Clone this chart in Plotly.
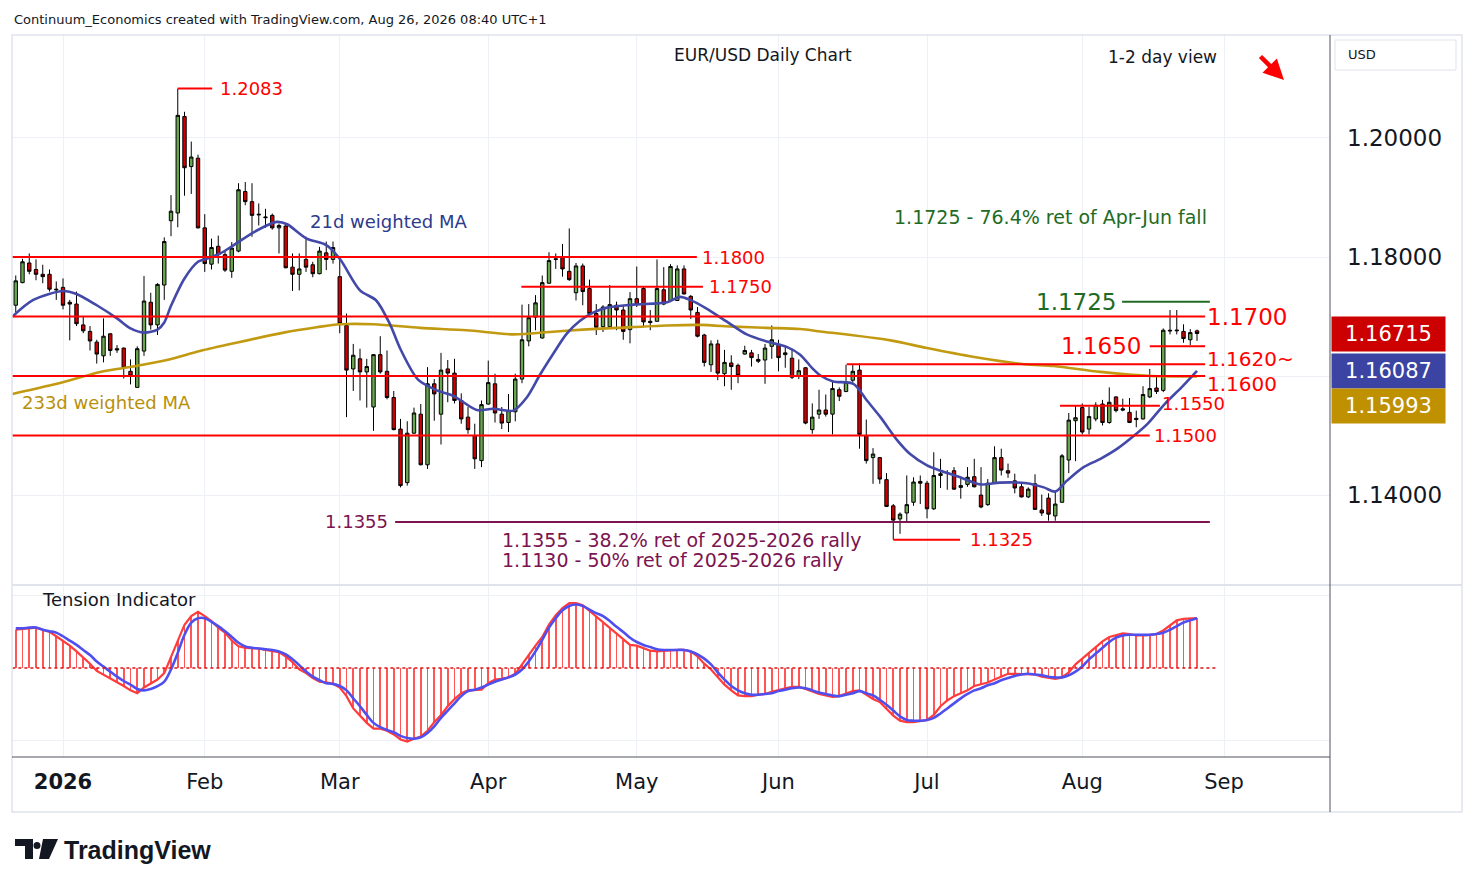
import pandas as pd
import plotly.graph_objects as go

W, H = 1474, 887
OX, OY = 8, 8            # page body margin of the browser
FW, FH = W - 2 * OX, H - 2 * OY
def XP(px): return (px - OX) / FW
def YP(py): return 1 - (py - OY) / FH

# ---------------- data ----------------
HOLIDAYS = ["2025-12-25", "2026-01-01"]
all_days = [d for d in pd.bdate_range("2025-12-22", "2026-09-30")
            if d.strftime("%Y-%m-%d") not in HOLIDAYS]

open_ = [1.1719,1.1757,1.1790,1.1779,1.1771,1.1771,1.1746,1.1749,1.1724,1.1721,
         1.1686,1.1675,1.1657,1.1634,1.1671,1.1646,1.1647,1.1608,1.1581,1.1642,
         1.1724,1.1686,1.1753,1.1861,1.1874,1.2036,1.1952,1.1966,1.1849,1.1788,
         1.1818,1.1804,1.1776,1.1810,1.1910,1.1893,1.1872,1.1866,1.1870,1.1849,
         1.1852,1.1783,1.1771,1.1796,1.1787,1.1772,1.1807,1.1796,1.1767,1.1685,
         1.1612,1.1629,1.1607,1.1548,1.1636,1.1608,1.1564,1.1511,1.1421,1.1504,
         1.1536,1.1451,1.1587,1.1536,1.1612,1.1605,1.1559,1.1531,1.1500,1.1458,
         1.1553,1.1587,1.1536,1.1522,1.1540,1.1595,1.1659,1.1699,1.1664,1.1756,
         1.1797,1.1800,1.1776,1.1740,1.1785,1.1747,1.1705,1.1683,1.1683,1.1719,
         1.1711,1.1678,1.1730,1.1747,1.1692,1.1692,1.1745,1.1727,1.1727,1.1780,
         1.1734,1.1707,1.1669,1.1619,1.1654,1.1604,1.1622,1.1618,1.1637,1.1639,
         1.1628,1.1627,1.1650,1.1653,1.1636,1.1630,1.1601,1.1614,1.1510,1.1536,
         1.1543,1.1536,1.1577,1.1574,1.1593,1.1610,1.1500,1.1463,1.1463,1.1426,
         1.1382,1.1360,1.1370,1.1388,1.1423,1.1420,1.1377,1.1433,1.1437,1.1441,
         1.1413,1.1418,1.1431,1.1400,1.1384,1.1420,1.1463,1.1441,1.1424,1.1414,
         1.1397,1.1419,1.1375,1.1395,1.1365,1.1388,1.1459,1.1525,1.1547,1.1511,
         1.1528,1.1553,1.1522,1.1565,1.1545,1.1539,1.1529,1.1528,1.1565,1.1580,
         1.1576,1.1677,1.1676,1.1675,1.1661,1.1676]
high = [1.1769,1.1797,1.1806,1.1796,1.1787,1.1779,1.1759,1.1764,1.1728,1.1742,
        1.1701,1.1684,1.1661,1.1697,1.1672,1.1652,1.1648,1.1628,1.1650,1.1768,
        1.1740,1.1756,1.1833,1.1904,1.2083,1.2044,1.1994,1.1972,1.1872,1.1831,
        1.1836,1.1811,1.1825,1.1924,1.1926,1.1924,1.1890,1.1881,1.1873,1.1856,
        1.1856,1.1806,1.1806,1.1834,1.1792,1.1817,1.1826,1.1826,1.1796,1.1705,
        1.1654,1.1646,1.1629,1.1637,1.1667,1.1643,1.1575,1.1528,1.1524,1.1547,
        1.1553,1.1615,1.1595,1.1639,1.1627,1.1629,1.1571,1.1548,1.1520,1.1559,
        1.1626,1.1604,1.1548,1.1570,1.1604,1.1720,1.1721,1.1736,1.1769,1.1808,
        1.1806,1.1822,1.1848,1.1790,1.1789,1.1762,1.1721,1.1719,1.1753,1.1725,
        1.1719,1.1741,1.1784,1.1750,1.1711,1.1796,1.1783,1.1788,1.1786,1.1786,
        1.1736,1.1716,1.1671,1.1660,1.1661,1.1644,1.1635,1.1621,1.1651,1.1644,
        1.1637,1.1654,1.1685,1.1661,1.1649,1.1646,1.1628,1.1615,1.1554,1.1577,
        1.1569,1.1590,1.1581,1.1619,1.1620,1.1621,1.1527,1.1479,1.1464,1.1437,
        1.1385,1.1371,1.1433,1.1430,1.1433,1.1424,1.1472,1.1461,1.1442,1.1447,
        1.1431,1.1447,1.1461,1.1447,1.1427,1.1482,1.1478,1.1453,1.1436,1.1420,
        1.1413,1.1435,1.1401,1.1403,1.1408,1.1469,1.1538,1.1551,1.1554,1.1548,
        1.1556,1.1560,1.1581,1.1566,1.1562,1.1563,1.1542,1.1583,1.1612,1.1601,
        1.1680,1.1711,1.1711,1.1687,1.1679,1.1678]
low = [1.1707,1.1756,1.1771,1.1761,1.1756,1.1742,1.1728,1.1712,1.1660,1.1684,
       1.1672,1.1643,1.1621,1.1623,1.1634,1.1639,1.1596,1.1586,1.1581,1.1634,
       1.1678,1.1669,1.1728,1.1835,1.1850,1.1903,1.1906,1.1848,1.1775,1.1779,
       1.1789,1.1775,1.1765,1.1808,1.1887,1.1834,1.1853,1.1849,1.1846,1.1806,
       1.1781,1.1743,1.1744,1.1775,1.1766,1.1771,1.1778,1.1789,1.1672,1.1531,
       1.1575,1.1559,1.1547,1.1508,1.1604,1.1561,1.1509,1.1413,1.1416,1.1503,
       1.1450,1.1444,1.1525,1.1485,1.1556,1.1554,1.1520,1.1503,1.1444,1.1447,
       1.1552,1.1522,1.1511,1.1506,1.1524,1.1588,1.1650,1.1677,1.1663,1.1755,
       1.1780,1.1767,1.1760,1.1727,1.1719,1.1704,1.1669,1.1674,1.1682,1.1677,
       1.1661,1.1655,1.1716,1.1682,1.1677,1.1691,1.1719,1.1726,1.1726,1.1737,
       1.1696,1.1665,1.1616,1.1607,1.1593,1.1583,1.1577,1.1588,1.1636,1.1616,
       1.1622,1.1587,1.1629,1.1608,1.1614,1.1595,1.1595,1.1519,1.1503,1.1528,
       1.1532,1.1502,1.1558,1.1573,1.1590,1.1478,1.1453,1.1419,1.1419,1.1380,
       1.1325,1.1335,1.1354,1.1382,1.1385,1.1361,1.1375,1.1412,1.1409,1.1409,
       1.1394,1.1414,1.1413,1.1378,1.1382,1.1419,1.1433,1.1429,1.1403,1.1396,
       1.1395,1.1375,1.1365,1.1357,1.1357,1.1387,1.1437,1.1457,1.1502,1.1502,
       1.1524,1.1517,1.1520,1.1539,1.1541,1.1521,1.1514,1.1527,1.1563,1.1570,
       1.1573,1.1670,1.1670,1.1656,1.1652,1.1659]
close = [1.1760,1.1792,1.1776,1.1771,1.1767,1.1746,1.1745,1.1719,1.1721,1.1688,
         1.1676,1.1659,1.1637,1.1667,1.1643,1.1644,1.1614,1.1600,1.1646,1.1726,
         1.1686,1.1754,1.1826,1.1877,1.2038,1.1950,1.1968,1.1849,1.1789,1.1816,
         1.1804,1.1778,1.1815,1.1913,1.1893,1.1870,1.1871,1.1867,1.1849,1.1853,
         1.1782,1.1771,1.1780,1.1783,1.1772,1.1810,1.1796,1.1816,1.1688,1.1610,
         1.1635,1.1607,1.1616,1.1636,1.1607,1.1564,1.1510,1.1416,1.1504,1.1538,
         1.1451,1.1587,1.1570,1.1610,1.1605,1.1559,1.1528,1.1510,1.1461,1.1552,
         1.1589,1.1538,1.1521,1.1542,1.1595,1.1661,1.1698,1.1723,1.1757,1.1794,
         1.1796,1.1780,1.1762,1.1785,1.1742,1.1705,1.1682,1.1716,1.1720,1.1711,
         1.1675,1.1730,1.1720,1.1691,1.1690,1.1747,1.1721,1.1784,1.1780,1.1738,
         1.1711,1.1667,1.1623,1.1654,1.1605,1.1623,1.1616,1.1601,1.1643,1.1631,
         1.1625,1.1647,1.1661,1.1631,1.1639,1.1598,1.1609,1.1521,1.1531,1.1543,
         1.1536,1.1579,1.1566,1.1590,1.1608,1.1502,1.1458,1.1469,1.1427,1.1381,
         1.1358,1.1368,1.1384,1.1422,1.1420,1.1377,1.1433,1.1436,1.1438,1.1410,
         1.1416,1.1430,1.1414,1.1380,1.1420,1.1463,1.1442,1.1437,1.1412,1.1397,
         1.1410,1.1376,1.1370,1.1368,1.1385,1.1466,1.1526,1.1530,1.1506,1.1532,
         1.1551,1.1522,1.1556,1.1542,1.1543,1.1522,1.1527,1.1569,1.1579,1.1574,
         1.1677,1.1676,1.1677,1.1663,1.1673,1.16715]

# 21d weighted MA (at bar positions)
wma21_x = [-0.5,2.6,7,9,12,15,17,19,21,22,23,25,27,28,30.3,32.3,35.3,38.7,40.2,43.1,46,48,
           51,53.4,55.4,57,59.6,62.4,64.8,68.3,70.7,73.7,75.7,77.6,79.6,81.6,83.6,85.6,87.6,
           91.5,96.5,98.4,99.9,102.4,105.4,108.3,111.3,114.2,116.2,118.1,119.2,121.1,124.1,
           126.1,128.1,130.6,132.5,135,137,139.9,142.9,145.8,149.8,152.3,154,155.7,158.2,
           160.7,163.2,165.7,167.7,170.2,172.7,175]
wma21_y = [1.1700,1.1728,1.1743,1.1738,1.1719,1.1697,1.1680,1.1673,1.1678,1.1690,1.1718,1.1764,
           1.1792,1.1796,1.1806,1.1820,1.1842,1.1859,1.1855,1.1831,1.1820,1.1797,1.1744,1.1727,
           1.1688,1.1645,1.1594,1.1576,1.1567,1.1543,1.1545,1.1542,1.1564,1.1601,1.1637,1.1671,
           1.1693,1.1707,1.1715,1.1720,1.1724,1.1733,1.1728,1.1713,1.1691,1.1670,1.1658,1.1649,
           1.1636,1.1612,1.1601,1.1591,1.1587,1.1559,1.1531,1.1492,1.1469,1.1450,1.1441,1.1430,
           1.1418,1.1421,1.1420,1.1413,1.1406,1.1424,1.1447,1.1461,1.1478,1.1500,1.1520,1.1553,
           1.1581,1.16087]
# 233d weighted MA
wma233_x = [-0.5,7.1,12.5,17.4,22.4,27.3,32.3,39.7,44.6,48,53,59.9,66.8,73.7,79.1,84,89.1,
            96.5,101.4,106.4,111.3,116.2,119.2,129.6,135,142,149.4,153.8,160.7,168.3,175]
wma233_y = [1.1570,1.1590,1.1607,1.1616,1.1627,1.1642,1.1655,1.1673,1.1682,1.1687,1.1687,
            1.1681,1.1677,1.1670,1.1674,1.1678,1.1681,1.1685,1.1686,1.1683,1.1681,1.1679,
            1.1675,1.1660,1.1647,1.1632,1.1620,1.1617,1.1607,1.1600,1.15993]

# Tension indicator (red = tension, blue = signal)
tension = [0.53,0.54,0.56,0.56,0.53,0.50,0.44,0.38,0.31,0.23,0.15,0.06,-0.04,-0.09,-0.15,-0.20,
           -0.25,-0.31,-0.35,-0.27,-0.21,-0.16,-0.07,0.15,0.39,0.60,0.72,0.78,0.72,0.65,0.56,0.49,
           0.38,0.30,0.28,0.28,0.27,0.25,0.24,0.22,0.16,0.08,-0.02,-0.07,-0.14,-0.19,-0.20,-0.22,
           -0.27,-0.39,-0.56,-0.66,-0.76,-0.84,-0.84,-0.87,-0.92,-0.99,-1.02,-0.98,-0.95,-0.87,
           -0.75,-0.65,-0.53,-0.43,-0.35,-0.31,-0.31,-0.30,-0.21,-0.16,-0.15,-0.13,-0.08,0.05,
           0.19,0.31,0.43,0.60,0.73,0.83,0.90,0.90,0.87,0.79,0.71,0.63,0.56,0.48,0.39,0.32,0.31,
           0.28,0.24,0.23,0.24,0.24,0.25,0.25,0.23,0.16,0.06,-0.02,-0.12,-0.23,-0.31,-0.38,-0.39,
           -0.39,-0.37,-0.36,-0.33,-0.30,-0.28,-0.26,-0.26,-0.29,-0.33,-0.36,-0.38,-0.40,-0.39,
           -0.36,-0.32,-0.31,-0.37,-0.43,-0.47,-0.56,-0.66,-0.73,-0.75,-0.75,-0.73,-0.72,-0.65,
           -0.53,-0.45,-0.39,-0.35,-0.31,-0.25,-0.23,-0.20,-0.16,-0.12,-0.08,-0.08,-0.08,-0.08,
           -0.09,-0.12,-0.13,-0.15,-0.13,-0.06,0.05,0.13,0.22,0.30,0.37,0.43,0.46,0.48,0.47,0.45,
           0.45,0.46,0.47,0.52,0.59,0.66,0.68,0.69,0.69]
signal = [0.55,0.55,0.56,0.56,0.53,0.51,0.49,0.44,0.38,0.32,0.25,0.18,0.09,0.02,-0.05,-0.12,
          -0.18,-0.23,-0.29,-0.31,-0.29,-0.25,-0.19,-0.02,0.21,0.46,0.63,0.69,0.69,0.64,0.58,0.51,
          0.43,0.35,0.30,0.28,0.27,0.26,0.25,0.23,0.19,0.12,0.04,-0.05,-0.12,-0.17,-0.21,-0.22,
          -0.25,-0.31,-0.42,-0.53,-0.65,-0.76,-0.82,-0.86,-0.89,-0.94,-0.97,-0.98,-0.96,-0.90,
          -0.81,-0.69,-0.59,-0.49,-0.39,-0.32,-0.30,-0.27,-0.23,-0.19,-0.16,-0.13,-0.09,-0.02,
          0.09,0.23,0.39,0.56,0.69,0.80,0.86,0.88,0.86,0.81,0.76,0.72,0.65,0.57,0.50,0.42,0.36,
          0.32,0.29,0.26,0.25,0.25,0.25,0.25,0.23,0.19,0.13,0.05,-0.06,-0.16,-0.25,-0.31,-0.35,
          -0.37,-0.37,-0.36,-0.35,-0.32,-0.30,-0.28,-0.27,-0.28,-0.31,-0.34,-0.36,-0.38,-0.39,
          -0.37,-0.35,-0.32,-0.35,-0.38,-0.44,-0.51,-0.59,-0.67,-0.72,-0.73,-0.73,-0.72,-0.69,
          -0.63,-0.56,-0.49,-0.42,-0.36,-0.31,-0.28,-0.24,-0.21,-0.17,-0.14,-0.11,-0.09,-0.08,
          -0.09,-0.10,-0.12,-0.13,-0.13,-0.10,-0.05,0.02,0.12,0.20,0.28,0.36,0.42,0.45,0.46,0.46,
          0.46,0.46,0.47,0.49,0.53,0.58,0.63,0.66,0.69]

last_close = 1.16715
last_wma21 = 1.16087
last_wma233 = 1.15993

# ---------------- figure ----------------
N = len(close)
idx = list(range(N))
dates = all_days[:N]
hover = [d.strftime("%Y-%m-%d") for d in dates]

# month ticks from the calendar
tick_idx, tick_txt = [], []
prev = dates[0].month
for k, d in enumerate(all_days):
    if d.month != prev:
        tick_idx.append(k)
        tick_txt.append("<b>2026</b>" if d.month == 1 else d.strftime("%b"))
        prev = d.month

FONT = "DejaVu Sans"
GRID = "#edf0f5"
TXT = "#131722"

fig = go.Figure()
fig.add_trace(go.Candlestick(
    x=idx, open=open_, high=high, low=low, close=close, text=hover,
    increasing=dict(line=dict(color="#000000", width=1), fillcolor="#6aa84f"),
    decreasing=dict(line=dict(color="#000000", width=1), fillcolor="#cc0000"),
    whiskerwidth=0, xaxis="x", yaxis="y", showlegend=False))
fig.add_trace(go.Scatter(x=wma233_x, y=wma233_y, mode="lines",
                         line=dict(color="#c29a12", width=2.6, shape="spline", smoothing=0.8),
                         xaxis="x", yaxis="y", showlegend=False, hoverinfo="skip"))
fig.add_trace(go.Scatter(x=wma21_x, y=wma21_y, mode="lines",
                         line=dict(color="#4349a8", width=2.6, shape="spline", smoothing=0.8),
                         xaxis="x", yaxis="y", showlegend=False, hoverinfo="skip"))

# indicator
fig.add_trace(go.Bar(x=idx, y=tension, width=0.24, marker=dict(color="rgba(255,55,55,0.85)", line=dict(width=0)),
                     xaxis="x2", yaxis="y2", showlegend=False))
fig.add_trace(go.Scatter(x=idx, y=tension, mode="lines", line=dict(color="#ff3b3b", width=2.2),
                         xaxis="x2", yaxis="y2", showlegend=False))
fig.add_trace(go.Scatter(x=idx, y=signal, mode="lines", line=dict(color="#4f4ff0", width=2.6, shape="spline"),
                         xaxis="x2", yaxis="y2", showlegend=False))

XDOM = [XP(12), XP(1330)]
XR = [-0.556, 194.7]
fig.update_layout(
    width=FW, height=FH, margin=dict(l=0, r=0, t=0, b=0),
    paper_bgcolor="white", plot_bgcolor="white",
    font=dict(family=FONT, color=TXT), boxgap=0.28, bargap=0,
    hovermode=False,
    xaxis=dict(domain=XDOM, range=XR, anchor="y", tickvals=tick_idx, showticklabels=False,
               showgrid=True, gridcolor=GRID, gridwidth=1, zeroline=False,
               rangeslider=dict(visible=False), showline=False, fixedrange=True),
    yaxis=dict(domain=[YP(585), YP(35)], range=[1.1249, 1.2173], side="right",
               tickvals=[1.14, 1.16, 1.18, 1.20], ticktext=["1.14000", "", "1.18000", "1.20000"],
               tickfont=dict(size=23, color=TXT, family=FONT), ticks="", ticklabelstandoff=16,
               showgrid=True, gridcolor=GRID, zeroline=False, showline=False, fixedrange=True),
    xaxis2=dict(domain=XDOM, range=XR, anchor="y2", matches="x", tickvals=tick_idx, ticktext=tick_txt,
                tickfont=dict(size=21, color=TXT, family=FONT), ticks="", ticklabelstandoff=10,
                showgrid=True, gridcolor=GRID, zeroline=False, showline=False),
    yaxis2=dict(domain=[YP(757), YP(585)], range=[-1.233, 1.150], side="right",
                tickvals=[-1, 1], showticklabels=False, showgrid=True, gridcolor=GRID,
                zeroline=False, showline=False),
)

shapes = []
def hline(y, x0, x1, color="#ff0000", width=2):
    shapes.append(dict(type="line", xref="x", yref="y", x0=x0, x1=x1, y0=y, y1=y,
                       line=dict(color=color, width=width)))

hline(1.2083, 24.0, 29.1)
hline(1.1800, -0.56, 100.9)
hline(1.1750, 74.9, 101.8)
hline(1.1700, -0.56, 176.2)
hline(1.1650, 168.0, 176.2)
hline(1.1620, 123.1, 176.2)
hline(1.1600, -0.56, 176.2)
hline(1.1550, 154.7, 169.5)
hline(1.1500, -0.56, 168.0)
hline(1.1355, 56.2, 176.9, color="#7b1450")
hline(1.1325, 130.0, 139.9)
hline(1.1725, 163.9, 176.9, color="#1f6b24")

# zero line of indicator
shapes.append(dict(type="line", xref="x2", yref="y2", x0=-0.5, x1=178, y0=0, y1=0,
                   line=dict(color="#e01010", width=1.5, dash="dot")))

# frame and separators
shapes.append(dict(type="rect", xref="paper", yref="paper", x0=XP(12), x1=XP(1462), y0=YP(812), y1=YP(35),
                   line=dict(color="#e0e3eb", width=1.5)))
shapes.append(dict(type="line", xref="paper", yref="paper", x0=XP(12), x1=XP(1462), y0=YP(585), y1=YP(585),
                   line=dict(color="#e0e3eb", width=2)))
shapes.append(dict(type="line", xref="paper", yref="paper", x0=XP(12), x1=XP(1330), y0=YP(757), y1=YP(757),
                   line=dict(color="#50535e", width=1)))
shapes.append(dict(type="line", xref="paper", yref="paper", x0=XP(1330), x1=XP(1330), y0=YP(812), y1=YP(35),
                   line=dict(color="#50535e", width=1)))
# USD box
shapes.append(dict(type="rect", xref="paper", yref="paper", x0=XP(1335), x1=XP(1456), y0=YP(70), y1=YP(40),
                   line=dict(color="#e0e3eb", width=1), fillcolor="white"))
# TradingView logo
LOGO = "#131722"
shapes.append(dict(type="path", xref="paper", yref="paper", fillcolor=LOGO, line=dict(width=0),
                   path=f"M {XP(15)} {YP(839)} L {XP(33)} {YP(839)} L {XP(33)} {YP(859)} L {XP(25)} {YP(859)} "
                        f"L {XP(25)} {YP(846)} L {XP(15)} {YP(846)} Z"))
shapes.append(dict(type="circle", xref="paper", yref="paper", fillcolor=LOGO, line=dict(width=0),
                   x0=XP(33.5), x1=XP(40.5), y0=YP(849), y1=YP(842)))
shapes.append(dict(type="path", xref="paper", yref="paper", fillcolor=LOGO, line=dict(width=0),
                   path=f"M {XP(43)} {YP(839)} L {XP(58)} {YP(839)} L {XP(49)} {YP(859)} L {XP(39)} {YP(859)} Z"))
fig.update_layout(shapes=shapes)

ann = []
def lvl(text, x, y, anchor="left", size=18, color="#ff0000", yshift=0):
    ann.append(dict(text=text, x=x, y=y, xref="x", yref="y", xanchor=anchor, yanchor="middle",
                    showarrow=False, font=dict(size=size, color=color, family=FONT), yshift=yshift))

lvl("1.2083", 30.0, 1.2083)
lvl("1.1800", 101.4, 1.1800)
lvl("1.1750", 102.4, 1.1750)
lvl("1.1700", 176.2, 1.1700, size=23)
lvl("1.1650", 167.0, 1.1650, anchor="right", size=23)
lvl("1.1620~", 176.2, 1.1620, size=20, yshift=5)
lvl("1.1600", 176.2, 1.1600, size=20, yshift=-8)
lvl("1.1550", 169.5, 1.1550, yshift=2)
lvl("1.1500", 168.3, 1.1500)
lvl("1.1355", 55.4, 1.1355, anchor="right", color="#7b1450")
lvl("1.1325", 141.1, 1.1325)
lvl("1.1725", 163.3, 1.1725, anchor="right", size=23, color="#1f6b24")

def ptxt(text, x, y, anchor="left", size=18, color=TXT):
    ann.append(dict(text=text, x=XP(x), y=YP(y), xref="paper", yref="paper", xanchor=anchor,
                    yanchor="middle", showarrow=False, font=dict(size=size, color=color, family=FONT)))

ptxt("Continuum_Economics created with TradingView.com, Aug 26, 2026 08:40 UTC+1", 12, 20, size=13)
ptxt("EUR/USD Daily Chart", 763, 55, anchor="center", size=17)
ptxt("1-2 day view", 1162, 57, anchor="center", size=17)
ptxt("21d weighted MA", 388, 221, anchor="center", size=18, color="#2d3a8c")
ptxt("233d weighted MA", 106, 402, anchor="center", size=18, color="#b8900c")
ptxt("1.1725 - 76.4% ret of Apr-Jun fall", 1050, 217, anchor="center", size=19, color="#1f6b24")
ptxt("1.1355 - 38.2% ret of 2025-2026 rally", 500, 540, size=19, color="#7b1450")
ptxt("1.1130 - 50% ret of 2025-2026 rally", 500, 560, size=19, color="#7b1450")
ptxt("Tension Indicator", 40, 599, size=18)
ptxt("USD", 1346, 55, size=13)
ann.append(dict(text="<b>TradingView</b>", x=XP(62), y=YP(850), xref="paper", yref="paper",
                xanchor="left", yanchor="middle", showarrow=False,
                font=dict(size=25, color=LOGO, family="Liberation Sans")))

# arrow
ann.append(dict(x=XP(1284), y=YP(80), xref="paper", yref="paper", ax=-25, ay=-25, text="",
                showarrow=True, arrowhead=2, arrowsize=0.9, arrowwidth=4.5, arrowcolor="#ff0000"))

# price labels on the axis
def plabel(val, bg, yshift=0):
    ann.append(dict(text=f"{val:.5f}", x=XP(1331), y=val, xref="paper", yref="y", xanchor="left",
                    yanchor="middle", showarrow=False, bgcolor=bg, width=105, height=26, borderpad=4,
                    align="center", yshift=yshift, font=dict(size=21, color="white", family=FONT)))

plabel(last_close, "#cc0000")
plabel(last_wma21, "#3b44a2")
plabel(last_wma233, "#bf9000", yshift=-30)

fig.update_layout(annotations=ann)
fig.write_html("out.html")
